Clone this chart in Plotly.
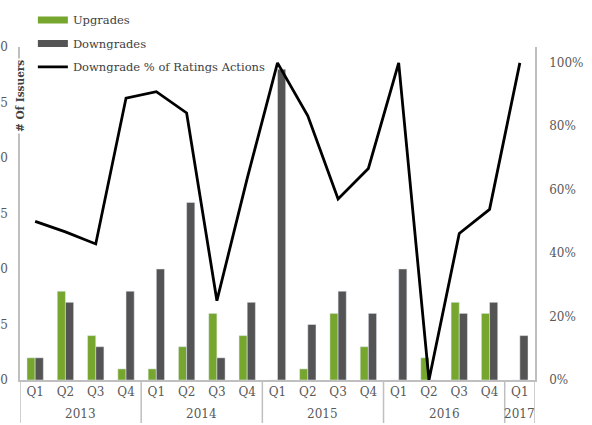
import plotly.graph_objects as go

years = ["2013"]*4 + ["2014"]*4 + ["2015"]*4 + ["2016"]*4 + ["2017"]
quarters = ["Q1", "Q2", "Q3", "Q4"]*4 + ["Q1"]
year_labels = ["2013", "2014", "2015", "2016", "2017"]
upgrades = [2, 8, 4, 1, 1, 3, 6, 4, 0, 1, 6, 3, 0, 2, 7, 6, 0]
downgrades = [2, 7, 3, 8, 10, 16, 2, 7, 28, 5, 8, 6, 10, 0, 6, 7, 4]
downgrade_pct = [0.50, 0.467, 0.429, 0.889, 0.909, 0.842, 0.25, 0.636, 1.0,
                 0.833, 0.571, 0.667, 1.0, 0.0, 0.462, 0.538, 1.0]

cats = [f"{y} {q}" for y, q in zip(years, quarters)]
FONT = "DejaVu Serif"
GRAY_TXT = "#595959"
AX = "#bfbfbf"
GREEN = "#77a62f"
DARK = "#545454"

fig = go.Figure()
fig.add_trace(go.Bar(x=cats, y=upgrades, name="Upgrades", marker_color=GREEN,
                     showlegend=False))
fig.add_trace(go.Bar(x=cats, y=downgrades, name="Downgrades", marker_color=DARK,
                     showlegend=False))
fig.add_trace(go.Scatter(x=cats, y=downgrade_pct, name="Downgrade % of Ratings Actions",
                         mode="lines", line=dict(color="black", width=2.8),
                         yaxis="y2", legendgroup="c", legendrank=3))
# legend-only entries with wide rectangular swatches
fig.add_trace(go.Scatter(x=[None], y=[None], name="Upgrades", mode="lines",
                         line=dict(color=GREEN, width=7), legendgroup="a", legendrank=1))
fig.add_trace(go.Scatter(x=[None], y=[None], name="Downgrades", mode="lines",
                         line=dict(color=DARK, width=7), legendgroup="b", legendrank=2))

fig.update_layout(
    width=592, height=425,
    margin=dict(l=20, r=57, t=47, b=45, autoexpand=False),
    paper_bgcolor="white", plot_bgcolor="white",
    barmode="group", bargap=0.46, bargroupgap=0,
    font=dict(family=FONT, size=12, color=GRAY_TXT),
    showlegend=True,
    legend=dict(x=0.025, y=1.125, xanchor="left", yanchor="top",
                traceorder="grouped", tracegroupgap=4.5,
                font=dict(family=FONT, size=11.5, color="#404040"),
                bgcolor="rgba(0,0,0,0)"),
    xaxis=dict(type="category", showline=True, linecolor=AX, linewidth=1.5,
               tickvals=cats, ticktext=quarters, automargin=False,
               range=[-0.5, len(cats) - 0.5],
               tickfont=dict(family=FONT, size=12, color=GRAY_TXT),
               showgrid=False, ticks=""),
    yaxis=dict(range=[0, 30], dtick=5, showgrid=False, zeroline=False,
               showline=True, linecolor=AX, linewidth=1.5, ticks="", automargin=False,
               ticklabelstandoff=8,
               tickfont=dict(family=FONT, size=12, color=GRAY_TXT)),
    yaxis2=dict(range=[0, 1.05], overlaying="y", side="right", tickvals=[0, 0.2, 0.4, 0.6, 0.8, 1.0],
                tickformat=".0%", showgrid=False, zeroline=False, automargin=False,
                showline=True, linecolor=AX, linewidth=1.5, ticks="",
                ticklabelstandoff=10,
                tickfont=dict(family=FONT, size=12, color=GRAY_TXT)),
)

# year group labels and dividers
idx = 0
bounds = [-0.5]
for yl in year_labels:
    n = years.count(yl)
    fig.add_annotation(text=yl, xref="x", yref="paper", x=idx + (n - 1) / 2,
                       y=-(414 - 380) / 333, showarrow=False, yanchor="middle",
                       font=dict(family=FONT, size=12, color=GRAY_TXT))
    idx += n
    bounds.append(idx - 0.5)
for b in bounds:
    fig.add_shape(type="line", xref="x", yref="paper", x0=b, x1=b,
                  y0=0, y1=-(423 - 380) / 333, line=dict(color=AX, width=1.5))

fig.add_annotation(text="<b># Of Issuers</b>", xref="paper", yref="paper",
                   x=0, y=(380 - 96) / 333, textangle=-90, showarrow=False,
                   bgcolor="white", font=dict(family=FONT, size=10.5, color="#404040"),
                   xanchor="center", yanchor="middle")

fig.write_html("out.html", config={"displayModeBar": False},
               post_script="document.body.style.margin='0';")
